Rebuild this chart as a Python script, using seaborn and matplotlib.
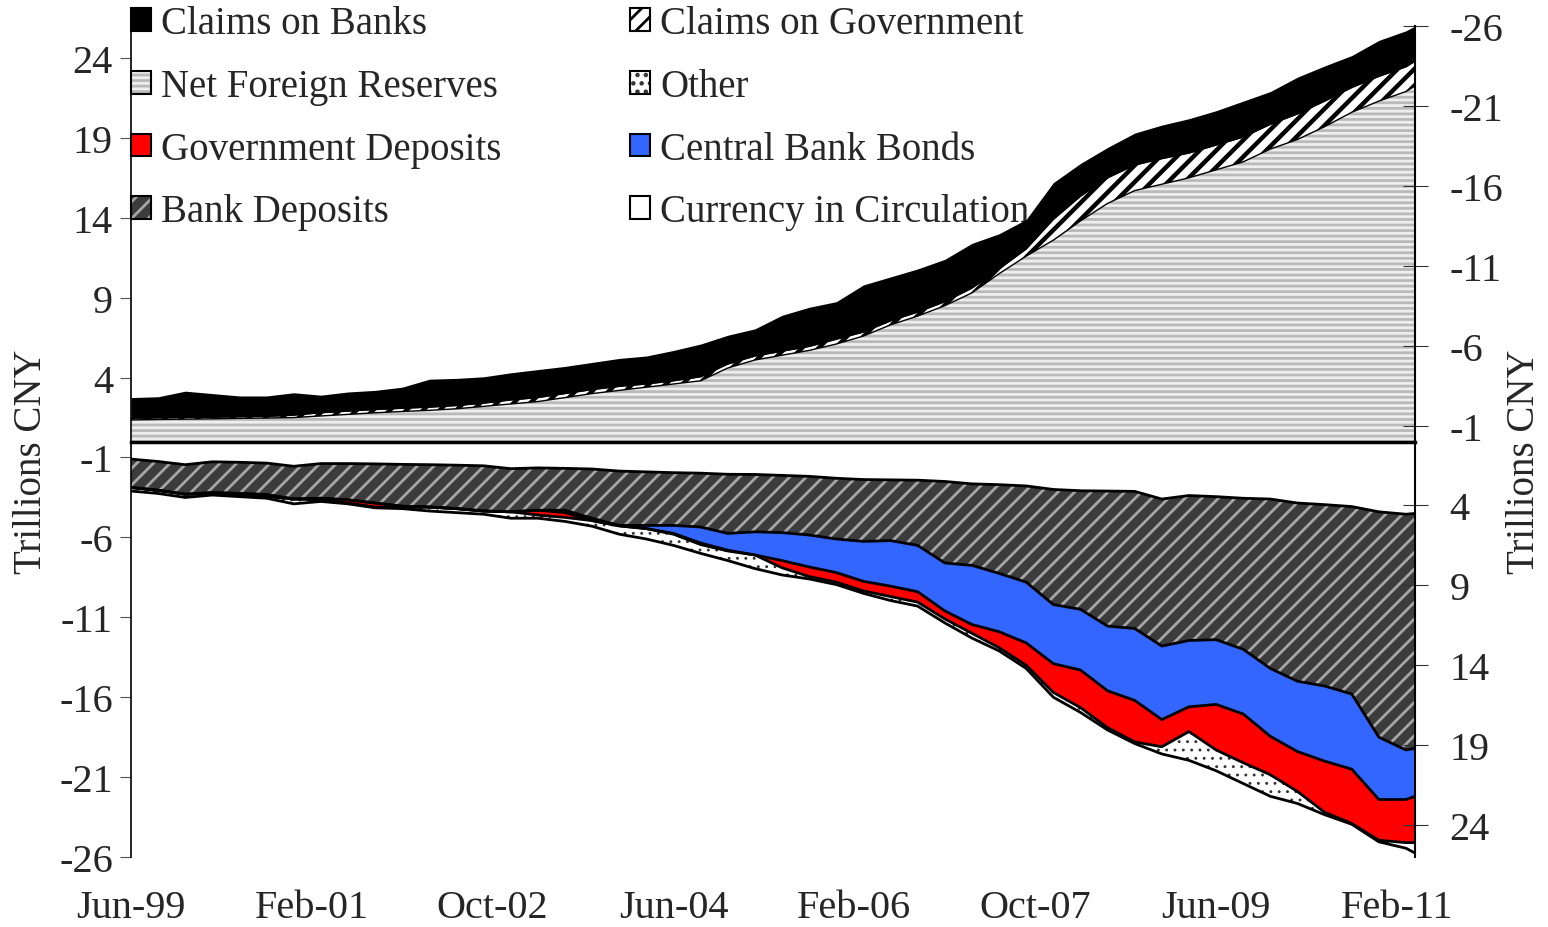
import numpy as np
import pandas as pd
import matplotlib
matplotlib.use("Agg")
import matplotlib.pyplot as plt
import matplotlib.patches as mpatches
import seaborn as sns

# ============================================================
# DATA (trillions CNY, quarterly Jun-99 .. Mar-11, plus Apr-11)
# ============================================================
dates = pd.date_range("1999-06-01", "2011-03-01", freq="3MS").append(
    pd.DatetimeIndex(["2011-04-01"]))

# assets (stacked upward)
net_foreign_reserves = [1.35, 1.38, 1.40, 1.42, 1.45, 1.47, 1.50, 1.60, 1.70, 1.80,
                        1.88, 1.95, 2.05, 2.20, 2.35, 2.50, 2.75, 3.00, 3.20, 3.40,
                        3.60, 3.80, 4.60, 5.10, 5.40, 5.70, 6.10, 6.60, 7.30, 7.85,
                        8.50, 9.30, 10.50, 11.60, 12.60, 13.80, 14.90, 15.70, 16.10, 16.50,
                        17.00, 17.50, 18.30, 18.90, 19.70, 20.60, 21.30, 21.90, 22.25]
claims_on_government = [0.10, 0.10, 0.10, 0.10, 0.10, 0.10, 0.15, 0.20, 0.20, 0.20,
                        0.20, 0.20, 0.20, 0.20, 0.25, 0.25, 0.25, 0.25, 0.25, 0.20,
                        0.20, 0.25, 0.25, 0.25, 0.25, 0.25, 0.30, 0.25, 0.25, 0.25,
                        0.25, 0.30, 0.30, 0.45, 1.30, 1.55, 1.60, 1.60, 1.60, 1.55,
                        1.55, 1.55, 1.55, 1.60, 1.60, 1.55, 1.55, 1.55, 1.55]
claims_on_banks = [1.30, 1.32, 1.65, 1.48, 1.30, 1.28, 1.40, 1.10, 1.20, 1.20,
                   1.32, 1.75, 1.70, 1.65, 1.70, 1.75, 1.70, 1.70, 1.75, 1.75,
                   1.90, 2.05, 1.80, 1.70, 2.25, 2.45, 2.35, 2.95, 2.75, 2.70,
                   2.65, 2.80, 2.20, 1.85, 2.30, 2.05, 1.90, 2.00, 2.10, 2.15,
                   2.15, 2.25, 2.05, 2.30, 2.20, 2.00, 2.25, 2.25, 2.20]

# liabilities (stacked downward, read on the inverted right axis)
currency = [1.10, 1.25, 1.45, 1.27, 1.30, 1.35, 1.55, 1.38, 1.38, 1.40,
            1.43, 1.45, 1.48, 1.52, 1.70, 1.65, 1.68, 1.72, 1.85, 1.90,
            1.95, 1.98, 2.05, 2.06, 2.12, 2.18, 2.30, 2.38, 2.40, 2.42,
            2.50, 2.65, 2.70, 2.78, 3.00, 3.08, 3.10, 3.12, 3.60, 3.38,
            3.45, 3.55, 3.60, 3.85, 3.95, 4.07, 4.40, 4.55, 4.50]
bank_deposits = [1.78, 1.80, 1.85, 1.93, 1.95, 1.97, 2.05, 2.17, 2.27, 2.45,
                 2.62, 2.65, 2.72, 2.83, 2.70, 2.65, 2.62, 3.08, 3.40, 3.35,
                 3.30, 3.37, 3.70, 3.59, 3.58, 3.67, 3.80, 3.87, 3.80, 4.08,
                 5.10, 5.10, 5.55, 6.02, 7.20, 7.42, 8.45, 8.58, 9.20, 9.07,
                 8.95, 9.45, 10.60, 11.15, 11.35, 11.73, 14.10, 14.75, 14.70]
central_bank_bonds = [0.00, 0.00, 0.00, 0.00, 0.00, 0.00, 0.00, 0.00, 0.00, 0.00,
                      0.00, 0.00, 0.00, 0.00, 0.00, 0.00, 0.15, 0.15, 0.03, 0.20,
                      0.50, 1.00, 1.05, 1.45, 1.75, 2.00, 2.10, 2.50, 2.85, 2.90,
                      3.00, 3.70, 3.65, 3.80, 3.70, 3.80, 4.05, 4.50, 4.60, 4.15,
                      4.05, 4.05, 4.25, 4.40, 4.70, 4.70, 3.90, 3.10, 3.00]
government_deposits = [0.00, 0.00, 0.00, 0.10, 0.10, 0.13, 0.00, 0.10, 0.20, 0.25,
                       0.10, 0.00, 0.00, 0.00, 0.00, 0.30, 0.30, 0.00, 0.00, 0.00,
                       0.05, 0.10, 0.05, 0.00, 0.45, 0.60, 0.60, 0.60, 0.65, 0.65,
                       0.50, 0.55, 1.00, 1.40, 1.80, 2.35, 2.30, 2.60, 1.70, 1.55,
                       2.85, 3.05, 2.40, 2.50, 3.20, 3.40, 2.55, 2.70, 2.90]
other = [0.22, 0.20, 0.20, 0.05, 0.10, 0.10, 0.30, 0.10, 0.05, 0.05,
         0.05, 0.25, 0.25, 0.20, 0.40, 0.20, 0.25, 0.35, 0.52, 0.65,
         0.70, 0.55, 0.60, 0.85, 0.45, 0.15, 0.15, 0.15, 0.25, 0.25,
         0.25, 0.30, 0.20, 0.20, 0.30, 0.30, 0.15, 0.10, 0.45, 1.80,
         1.30, 1.30, 1.35, 0.75, 0.15, 0.05, 0.10, 0.35, 0.65]

tick_labels = ["Jun-99", "Feb-01", "Oct-02", "Jun-04", "Feb-06", "Oct-07", "Jun-09", "Feb-11"]
y_ticks = [-26, -21, -16, -11, -6, -1, 4, 9, 14, 19, 24]

# ============================================================
# STYLE
# ============================================================
sns.set_theme(style="white")
plt.rcParams["font.family"] = ["Liberation Serif", "DejaVu Serif"]
plt.rcParams["axes.unicode_minus"] = False
plt.rcParams["hatch.linewidth"] = 2.0

# name -> (facecolor, hatch colour, hatch, hatch linewidth)
styles = {
    "Claims on Banks": ("black", "black", None, 2.0),
    "Claims on Government": ("white", "black", "//", 3.2),
    "Net Foreign Reserves": ("#eeeeee", "#b9b9b9", "---", 2.0),
    "Other": ("white", "#333333", "..", 0.9),
    "Government Deposits": ("#ff0000", "#ff0000", None, 2.0),
    "Central Bank Bonds": ("#3366ff", "#3366ff", None, 2.0),
    "Bank Deposits": ("#3c3c3c", "#a6a6a6", "//", 2.0),
    "Currency in Circulation": ("white", "white", None, 2.0),
}

x = (dates.year - 1999) * 12 + dates.month - 6
tick_pos = [(d.year - 1999) * 12 + d.month - 6
            for d in pd.to_datetime(tick_labels, format="%b-%y")]

fig = plt.figure(figsize=(15.48, 9.28), dpi=100)
ax = fig.add_axes([0.0846, 0.0754, 0.8295, 0.8955])
ax.patch.set_alpha(0)


def stacked_fill(name, y0, y1):
    face, hcol, hatch, hlw = styles[name]
    with plt.rc_context({"hatch.linewidth": hlw}):
        ax.fill_between(x, y0, y1, facecolor=face, edgecolor=hcol,
                        hatch=hatch, linewidth=0, zorder=1)


# assets upward
assets = [("Net Foreign Reserves", net_foreign_reserves),
          ("Claims on Government", claims_on_government),
          ("Claims on Banks", claims_on_banks)]
lower = np.zeros(len(x))
for i, (name, vals) in enumerate(assets):
    upper = lower + np.asarray(vals)
    stacked_fill(name, lower, upper)
    if i < 2:
        sns.lineplot(x=x, y=upper, ax=ax, color="black", linewidth=1.0, zorder=2)
    lower = upper

# liabilities downward
liabilities = [("Currency in Circulation", currency),
               ("Bank Deposits", bank_deposits),
               ("Central Bank Bonds", central_bank_bonds),
               ("Government Deposits", government_deposits),
               ("Other", other)]
lower = np.zeros(len(x))
for name, vals in liabilities:
    upper = lower + np.asarray(vals)
    stacked_fill(name, -lower, -upper)
    sns.lineplot(x=x, y=-upper, ax=ax, color="black", linewidth=2.0, zorder=2)
    lower = upper

# axes
ax.set_xlim(0, x.max())
ax.set_ylim(-26, 26)
ax.set_yticks(y_ticks)
ax.spines["top"].set_visible(False)
ax.spines["right"].set_visible(False)
ax.spines["left"].set_color("black")
ax.spines["left"].set_linewidth(1.2)
ax.spines["bottom"].set_position(("data", 0))
ax.spines["bottom"].set_color("black")
ax.spines["bottom"].set_linewidth(2.5)
ax.spines["bottom"].set_zorder(5)
ax.set_xticks(tick_pos)
ax.tick_params(axis="x", direction="out", length=9, width=0.8, color="#555555",
               labelbottom=False, bottom=True)
ax.tick_params(axis="y", direction="out", length=8, width=0.8, color="#555555",
               labelsize=29, pad=5, left=True)
ax.set_ylabel("Trillions CNY", fontsize=28)
ax.yaxis.set_label_coords(-0.063, 0.4765)

sec = ax.secondary_xaxis("bottom")
sec.set_xticks(tick_pos, tick_labels)
sec.tick_params(length=0, pad=23, labelsize=29)
sec.spines["bottom"].set_visible(False)

ax2 = ax.twinx()
ax2.set_ylim(26, -26)
ax2.set_yticks(y_ticks)
for s in ["top", "left", "bottom"]:
    ax2.spines[s].set_visible(False)
ax2.spines["right"].set_color("black")
ax2.spines["right"].set_linewidth(1.5)
ax2.tick_params(axis="y", direction="inout", length=18, width=0.8, color="#333333",
                labelsize=29, pad=16, right=True)
ax2.set_ylabel("Trillions CNY", fontsize=28)
ax2.yaxis.set_label_coords(1.071, 0.4765)
ax2.grid(False)
ax.grid(False)

# legend (two columns, read row by row), drawn beneath the areas
order = ["Claims on Banks", "Net Foreign Reserves", "Government Deposits", "Bank Deposits",
         "Claims on Government", "Other", "Central Bank Bonds", "Currency in Circulation"]
handles = []
for name in order:
    face, hcol, hatch, hlw = styles[name]
    with plt.rc_context({"hatch.linewidth": min(hlw, 2.0)}):
        fill = mpatches.Patch(facecolor=face, edgecolor=hcol, hatch=hatch, linewidth=0)
    edge = mpatches.Patch(facecolor="none", edgecolor="black", linewidth=1.5)
    handles.append((fill, edge))
leg = fig.legend(handles, order, ncol=2, loc="upper left", bbox_to_anchor=(0.0846, 0.993),
                 frameon=False, fontsize=28, handlelength=0.52, handleheight=0.52,
                 handletextpad=0.26, columnspacing=3.3, labelspacing=0.66,
                 borderpad=0, borderaxespad=0)
leg.set_zorder(-1)

fig.savefig("out.png", dpi=100)
